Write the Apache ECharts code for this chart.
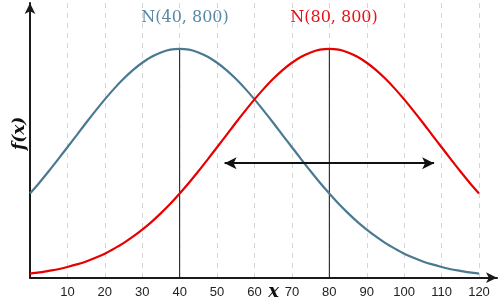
<!DOCTYPE html>
<html>
<head>
<meta charset="utf-8">
<script src="https://cdn.jsdelivr.net/npm/echarts@6/dist/echarts.min.js"></script>
<style>html,body{margin:0;padding:0;background:#fff}#c{width:500px;height:302px}</style>
</head>
<body>
<div id="c"></div>
<script>
// x positions (read every 2.5 units)
var xs = [0,2.5,5,7.5,10,12.5,15,17.5,20,22.5,25,27.5,30,32.5,35,37.5,40,42.5,45,47.5,50,52.5,55,57.5,60,62.5,65,67.5,70,72.5,75,77.5,80,82.5,85,87.5,90,92.5,95,97.5,100,102.5,105,107.5,110,112.5,115,117.5,120];
// relative density heights (peak = 100)
var blueVals = [36.8,41.5,46.5,51.7,57.0,62.3,67.7,72.9,77.9,82.6,86.9,90.7,93.9,96.5,98.4,99.6,100,99.6,98.4,96.5,93.9,90.7,86.9,82.6,77.9,72.9,67.7,62.3,57.0,51.7,46.5,41.5,36.8,32.3,28.2,24.4,21.0,17.9,15.1,12.7,10.5,8.7,7.1,5.8,4.7,3.7,3.0,2.3,1.8];
var redVals  = [1.8,2.3,3.0,3.7,4.7,5.8,7.1,8.7,10.5,12.7,15.1,17.9,21.0,24.4,28.2,32.3,36.8,41.5,46.5,51.7,57.0,62.3,67.7,72.9,77.9,82.6,86.9,90.7,93.9,96.5,98.4,99.6,100,99.6,98.4,96.5,93.9,90.7,86.9,82.6,77.9,72.9,67.7,62.3,57.0,51.7,46.5,41.5,36.8];
var means = [40, 80];
var peak = 100;
var arrowFrom = [52, 50];
var arrowTo = [108, 50];
var titles = ['N(40, 800)', 'N(80, 800)'];
var tickLabels = ['10','20','30','40','50','60','70','80','90','100','110','120'];

var BLUE = '#4a7a92', RED = '#e60000', AX = '#1a1a1a';

function pairs(a){ return xs.map(function(x,i){ return [x, a[i]]; }); }

var chart = echarts.init(document.getElementById('c'), null, {renderer:'canvas'});
chart.setOption({
  animation:false,
  backgroundColor:'#fff',
  title:[
    {text:titles[0], left:180, top:5, textAlign:'center',
     textStyle:{fontFamily:'DejaVu Serif', fontWeight:'normal', fontSize:16, color:'#5a89a3'}},
    {text:titles[1], left:329, top:5, textAlign:'center',
     textStyle:{fontFamily:'DejaVu Serif', fontWeight:'normal', fontSize:16, color:'#e8121a'}}
  ],
  grid:[
    {left:30, right:21, top:3, bottom:24.3, containLabel:false, outerBoundsMode:'none'},
    {left:30, right:3, top:3, bottom:24.3, containLabel:false, outerBoundsMode:'none'}
  ],
  xAxis:[
    {type:'value', gridIndex:0, min:0, max:120, interval:10,
     axisLine:{show:false}, axisTick:{show:false},
     axisLabel:{margin:8, fontFamily:'Liberation Sans', fontSize:13, color:'#222',
       formatter:function(v){ var s=String(v); return tickLabels.indexOf(s)>=0 ? s : ''; }},
     splitLine:{show:true, lineStyle:{type:[5,5], color:'#d6d6d6', width:1}},
     name:'x', nameLocation:'middle', nameGap:6, nameMoveOverlap:false,
     nameTextStyle:{fontFamily:'DejaVu Serif', fontStyle:'italic', fontWeight:'bold', fontSize:18, color:'#111', padding:[0,0,0,38]}
    },
    {type:'value', gridIndex:1, min:0, max:125,
     axisLine:{show:true, symbol:['none','arrow'], symbolSize:[8,11], lineStyle:{color:AX, width:2}},
     axisTick:{show:false}, axisLabel:{show:false}, splitLine:{show:false}}
  ],
  yAxis:[
    {type:'value', gridIndex:0, min:0, max:120,
     axisLine:{show:true, symbol:['none','arrow'], symbolSize:[8,11], lineStyle:{color:AX, width:2}},
     axisTick:{show:false}, axisLabel:{show:false}, splitLine:{show:false},
     name:'f(x)', nameLocation:'middle', nameGap:2, nameMoveOverlap:false,
     nameTextStyle:{fontFamily:'DejaVu Serif', fontStyle:'italic', fontWeight:'bold', fontSize:17, color:'#111', padding:[0,0,0,14]}
    },
    {type:'value', gridIndex:1, min:0, max:120, show:false}
  ],
  series:[
    {type:'line', name:'v40', xAxisIndex:0, yAxisIndex:0, data:[[means[0],0],[means[0],peak]],
     symbol:'none', lineStyle:{color:'#111', width:1}, silent:true},
    {type:'line', name:'v80', xAxisIndex:0, yAxisIndex:0, data:[[means[1],0],[means[1],peak]],
     symbol:'none', lineStyle:{color:'#111', width:1}, silent:true},
    {type:'line', name:'N40', xAxisIndex:0, yAxisIndex:0, data:pairs(blueVals), smooth:0.3,
     symbol:'none', lineStyle:{color:BLUE, width:2.2}},
    {type:'line', name:'N80', xAxisIndex:0, yAxisIndex:0, data:pairs(redVals), smooth:0.3,
     symbol:'none', lineStyle:{color:RED, width:2.2},
     markLine:{silent:true, symbol:['arrow','arrow'], symbolSize:[9,12], label:{show:false},
       lineStyle:{color:'#111', width:2, type:'solid'},
       data:[[{coord:arrowFrom},{coord:arrowTo}]]}}
  ]
});
</script>
</body>
</html>
